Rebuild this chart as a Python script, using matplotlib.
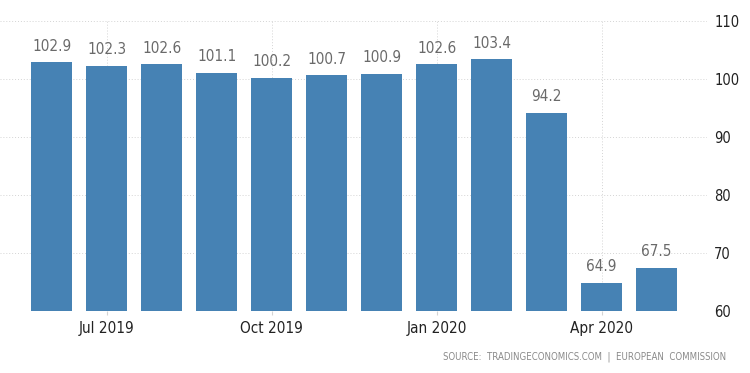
import matplotlib.pyplot as plt
import numpy as np

plt.rcParams['font.family'] = ['DejaVu Sans']
plt.rcParams['font.stretch'] = 'condensed'

# 数据
months = ['Jun 2019', 'Jul 2019', 'Aug 2019', 'Sep 2019', 'Oct 2019', 'Nov 2019',
          'Dec 2019', 'Jan 2020', 'Feb 2020', 'Mar 2020', 'Apr 2020', 'May 2020']
values = [102.9, 102.3, 102.6, 101.1, 100.2, 100.7, 100.9, 102.6, 103.4, 94.2, 64.9, 67.5]
tick_labels = ['Jul 2019', 'Oct 2019', 'Jan 2020', 'Apr 2020']
y_ticks = [60, 70, 80, 90, 100, 110]

bar_color = '#4682b4'
grid_color = '#d4d4d4'

fig = plt.figure(figsize=(7.5, 3.73), dpi=100)
ax = fig.add_axes([0.0, 0.166, 0.943, 0.778])

x = np.arange(len(values))
ax.bar(x, values, width=0.75, color=bar_color, zorder=2)

# 数值标签
for xi, v in zip(x, values):
    ax.annotate(f'{v:.1f}', (xi, v), xytext=(0, 6), textcoords='offset points',
                ha='center', va='bottom', fontsize=11, color='#6a6a6a')

ax.set_ylim(60, 110)
ax.set_xlim(-0.94, 11.92)

ax.set_yticks(y_ticks)
ax.yaxis.tick_right()
ax.tick_params(axis='y', length=0, labelsize=10.5, labelcolor='#222222', pad=5)

tick_pos = [months.index(m) for m in tick_labels]
ax.set_xticks(tick_pos)
ax.set_xticklabels(tick_labels)
ax.tick_params(axis='x', length=3, color=grid_color, labelsize=11,
               labelcolor='#222222', pad=4)

ax.grid(True, axis='both', linestyle=(0, (1, 2)), color=grid_color, linewidth=0.7, zorder=0)
ax.set_axisbelow(True)
for s in ax.spines.values():
    s.set_visible(False)

fig.text(0.968, 0.043, 'SOURCE:  TRADINGECONOMICS.COM  |  EUROPEAN  COMMISSION',
         ha='right', va='center', fontsize=6.9, color='#8a8a8a')

fig.savefig('out.png', dpi=100)
